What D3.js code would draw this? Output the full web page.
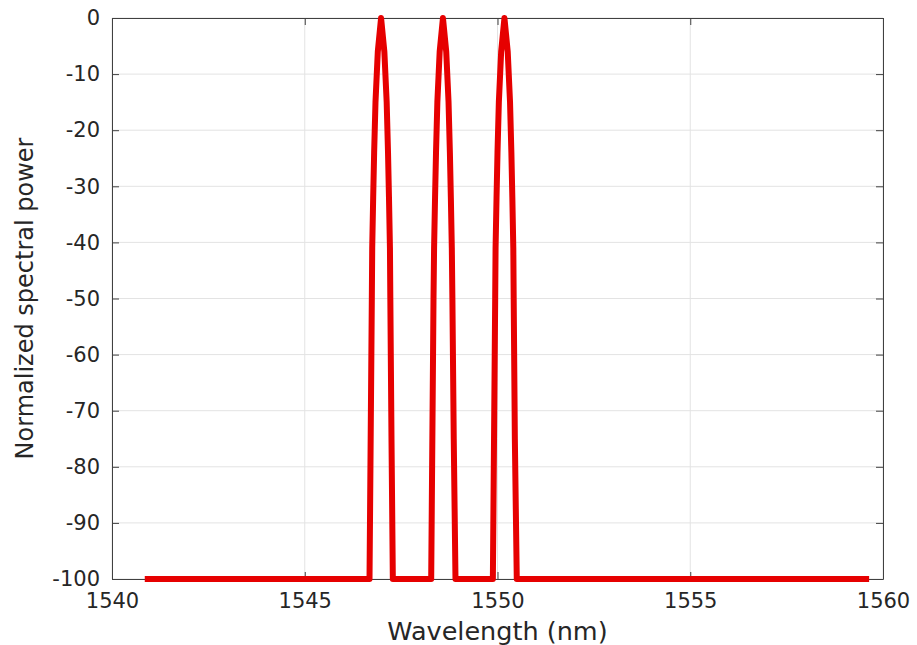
<!DOCTYPE html>
<html>
<head>
<meta charset="utf-8">
<script src="https://cdn.jsdelivr.net/npm/d3@7"></script>
<style>
  body { margin: 0; background: #fff; }
  text { font-family: "DejaVu Sans", sans-serif; fill: #262626; }
</style>
</head>
<body>
<script>
// spectrum (nm, dB)
let wavelength = [
  1540.85,
  1546.68, 1546.71, 1546.74, 1546.75, 1546.775, 1546.80, 1546.835, 1546.895, 1546.98,
  1547.065, 1547.125, 1547.16, 1547.185, 1547.21, 1547.22, 1547.25, 1547.285,
  1548.28, 1548.31, 1548.34, 1548.355, 1548.38, 1548.405, 1548.44, 1548.50, 1548.585,
  1548.67, 1548.73, 1548.765, 1548.79, 1548.815, 1548.83, 1548.865, 1548.91,
  1549.88, 1549.91, 1549.94, 1549.95, 1549.975, 1550.00, 1550.035, 1550.095, 1550.18,
  1550.265, 1550.325, 1550.36, 1550.385, 1550.41, 1550.42, 1550.45, 1550.50,
  1559.64
];
let power = [
  -100,
  -100, -75, -50, -41, -32, -24, -15, -6, 0,
  -6, -15, -24, -32, -41, -50, -75, -100,
  -100, -75, -50, -41, -32, -24, -15, -6, 0,
  -6, -15, -24, -32, -41, -50, -75, -100,
  -100, -75, -50, -41, -32, -24, -15, -6, 0,
  -6, -15, -24, -32, -41, -50, -75, -100,
  -100
];
let xTicks = [1540, 1545, 1550, 1555, 1560];
let yTicks = [0, -10, -20, -30, -40, -50, -60, -70, -80, -90, -100];

let width = 917, height = 645;
let m = { left: 112, right: 34, top: 18, bottom: 66 };

const svg = d3.select("body")
  .append("svg")
  .attr("width", width)
  .attr("height", height);

let x = d3.scaleLinear().domain([1540, 1560]).range([m.left, width - m.right]);
let y = d3.scaleLinear().domain([-100, 0]).range([height - m.bottom, m.top]);

// сетка
svg.append("g")
  .selectAll("line.gx")
  .data(xTicks)
  .join("line")
  .attr("x1", d => x(d)).attr("x2", d => x(d))
  .attr("y1", y(0)).attr("y2", y(-100))
  .style("stroke", "#e3e3e3").style("stroke-width", 1);

svg.append("g")
  .selectAll("line.gy")
  .data(yTicks)
  .join("line")
  .attr("x1", x(1540)).attr("x2", x(1560))
  .attr("y1", d => y(d)).attr("y2", d => y(d))
  .style("stroke", "#e3e3e3").style("stroke-width", 1);

// оси
let xAxis = svg.append("g")
  .attr("transform", `translate(0,${y(-100)})`)
  .call(d3.axisBottom(x).tickValues(xTicks).tickSizeInner(-7).tickSizeOuter(0).tickPadding(14).tickFormat(d => String(d)));
let xAxisTop = svg.append("g")
  .attr("transform", `translate(0,${y(0)})`)
  .call(d3.axisTop(x).tickValues(xTicks).tickSizeInner(-7).tickSizeOuter(0).tickFormat(""));
let yAxis = svg.append("g")
  .attr("transform", `translate(${x(1540)},0)`)
  .call(d3.axisLeft(y).tickValues(yTicks).tickSizeInner(-7).tickSizeOuter(0).tickPadding(12).tickFormat(d => String(d)));
let yAxisRight = svg.append("g")
  .attr("transform", `translate(${x(1560)},0)`)
  .call(d3.axisRight(y).tickValues(yTicks).tickSizeInner(-7).tickSizeOuter(0).tickFormat(""));

svg.selectAll(".domain, .tick line")
  .style("stroke", "#404040")
  .style("stroke-width", 1);
svg.selectAll(".tick text")
  .style("font-size", "21px")
  .style("font-family", "DejaVu Sans")
  .style("fill", "#262626");

// линия спектра
let line = d3.line()
  .x((d, i) => x(wavelength[i]))
  .y(d => y(d));

svg.append("path")
  .datum(power)
  .attr("d", line)
  .style("fill", "none")
  .style("stroke", "#e60000")
  .style("stroke-width", 6)
  .style("stroke-linejoin", "round")
  .style("stroke-linecap", "butt");

svg.append("text")
  .text("Wavelength (nm)")
  .attr("x", (x(1540) + x(1560)) / 2)
  .attr("y", 640)
  .attr("text-anchor", "middle")
  .style("font-size", "25.5px");

svg.append("text")
  .text("Normalized spectral power")
  .attr("transform", `translate(33,${(y(0) + y(-100)) / 2}) rotate(-90)`)
  .attr("text-anchor", "middle")
  .style("font-size", "24px");
</script>
</body>
</html>
